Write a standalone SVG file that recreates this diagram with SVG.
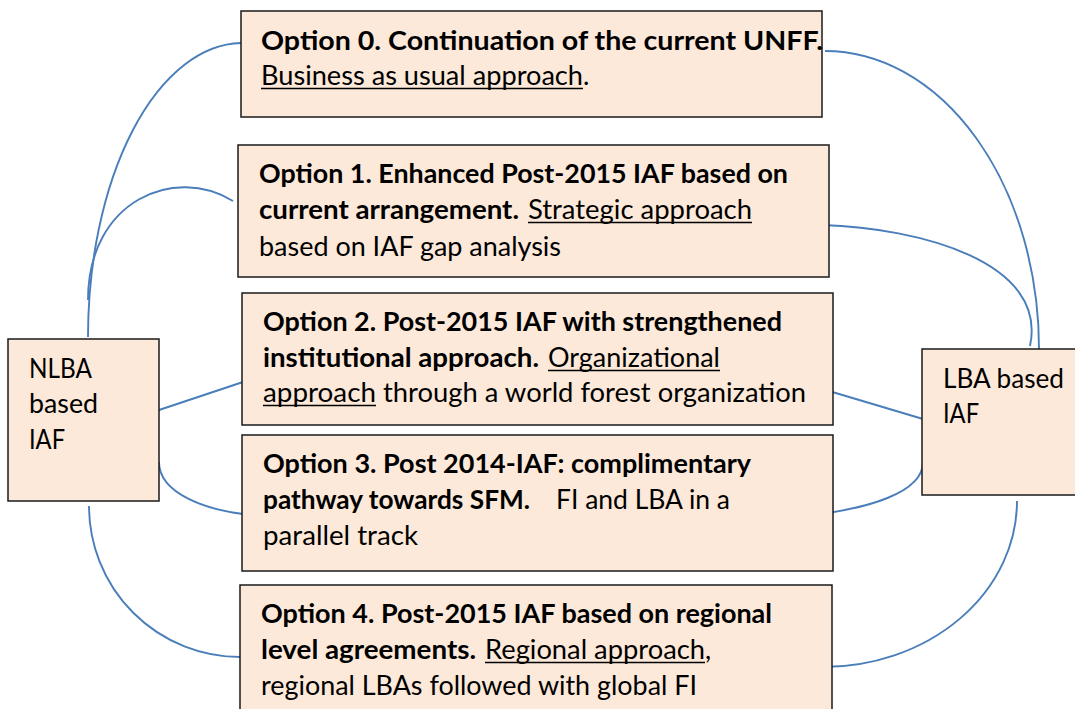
<svg xmlns="http://www.w3.org/2000/svg" width="1075" height="709" viewBox="0 0 1075 709">
<style>
.box{fill:#fde9d9;stroke:#1a1a1a;stroke-width:1.5}
.t{font-family:Lato,"Open Sans","Liberation Sans",sans-serif;font-size:27px;fill:#000}
.b{font-weight:bold}
.u{stroke:#000;stroke-width:1.6}
.c{fill:none;stroke:#4a7ebb;stroke-width:1.9}
</style>
<rect width="1075" height="709" fill="#fff"/>
<g id="connectors">
<path class="c" d="M88,337 A155,294 0 0 1 241,43"/>
<path class="c" d="M88,300 C88,200 175,165 233,201"/>
<path class="c" d="M825,51 A214,298 0 0 1 1039,349"/>
<path class="c" d="M822,225 C920,228 1048,262 1030,346"/>
<path class="c" d="M159,410 L243,382"/>
<path class="c" d="M829,391 L923,419"/>
<path class="c" d="M159,462 C159,495 210,510 243,514"/>
<path class="c" d="M923,462 C923,495 860,508 828,513"/>
<path class="c" d="M89,506 A151,151 0 0 0 240,657"/>
<path class="c" d="M1017,501 A194,166 0 0 1 823,667"/>
</g>
<g id="opt0">
<rect class="box" x="241" y="11" width="581" height="106"/>
<text class="t b" x="261" y="50" textLength="562" lengthAdjust="spacingAndGlyphs">Option 0. Continuation of the current UNFF.</text>
<text class="t" x="261" y="85" textLength="322" lengthAdjust="spacingAndGlyphs">Business as usual approach</text>
<text class="t" x="583" y="85">.</text>
<line class="u" x1="261" y1="88.5" x2="583" y2="88.5"/>
</g>
<g id="opt1">
<rect class="box" x="238" y="145" width="591" height="132"/>
<text class="t b" x="259" y="183" textLength="529" lengthAdjust="spacingAndGlyphs">Option 1. Enhanced Post-2015 IAF based on</text>
<text class="t b" x="259" y="219" textLength="260" lengthAdjust="spacingAndGlyphs">current arrangement.</text>
<text class="t" x="528" y="219" textLength="224" lengthAdjust="spacingAndGlyphs">Strategic approach</text>
<line class="u" x1="528" y1="222.5" x2="752" y2="222.5"/>
<text class="t" x="259" y="256" textLength="302" lengthAdjust="spacingAndGlyphs">based on IAF gap analysis</text>
</g>
<g id="opt2">
<rect class="box" x="242" y="293" width="591" height="132"/>
<text class="t b" x="263" y="331" textLength="519" lengthAdjust="spacingAndGlyphs">Option 2. Post-2015 IAF with strengthened</text>
<text class="t b" x="263" y="367" textLength="276" lengthAdjust="spacingAndGlyphs">institutional approach.</text>
<text class="t" x="548" y="367" textLength="172" lengthAdjust="spacingAndGlyphs">Organizational</text>
<line class="u" x1="548" y1="370.5" x2="720" y2="370.5"/>
<text class="t" x="263" y="402" textLength="113" lengthAdjust="spacingAndGlyphs">approach</text>
<line class="u" x1="263" y1="405.5" x2="376" y2="405.5"/>
<text class="t" x="383" y="402" textLength="423" lengthAdjust="spacingAndGlyphs">through a world forest organization</text>
</g>
<g id="opt3">
<rect class="box" x="242" y="435" width="591" height="136"/>
<text class="t b" x="263" y="473" textLength="488" lengthAdjust="spacingAndGlyphs">Option 3. Post 2014-IAF: complimentary</text>
<text class="t b" x="263" y="509" textLength="267" lengthAdjust="spacingAndGlyphs">pathway towards SFM.</text>
<text class="t" x="556" y="509" textLength="174" lengthAdjust="spacingAndGlyphs">FI and LBA in a</text>
<text class="t" x="263" y="545" textLength="155" lengthAdjust="spacingAndGlyphs">parallel track</text>
</g>
<g id="opt4">
<rect class="box" x="240" y="585" width="592" height="135"/>
<text class="t b" x="261" y="623" textLength="511" lengthAdjust="spacingAndGlyphs">Option 4. Post-2015 IAF based on regional</text>
<text class="t b" x="261" y="659" textLength="215" lengthAdjust="spacingAndGlyphs">level agreements.</text>
<text class="t" x="485" y="659" textLength="220" lengthAdjust="spacingAndGlyphs">Regional approach</text>
<line class="u" x1="485" y1="662.5" x2="705" y2="662.5"/>
<text class="t" x="705" y="659">,</text>
<text class="t" x="261" y="695" textLength="436" lengthAdjust="spacingAndGlyphs">regional LBAs followed with global FI</text>
</g>
<g id="nlba">
<rect class="box" x="8" y="339" width="151" height="162"/>
<text class="t" x="29" y="378" textLength="63" lengthAdjust="spacingAndGlyphs">NLBA</text>
<text class="t" x="29" y="413" textLength="69" lengthAdjust="spacingAndGlyphs">based</text>
<text class="t" x="29" y="449" textLength="36" lengthAdjust="spacingAndGlyphs">IAF</text>
</g>
<g id="lba">
<rect class="box" x="922" y="349" width="160" height="146"/>
<text class="t" x="943" y="388" textLength="121" lengthAdjust="spacingAndGlyphs">LBA based</text>
<text class="t" x="943" y="423" textLength="36" lengthAdjust="spacingAndGlyphs">IAF</text>
</g>
</svg>
